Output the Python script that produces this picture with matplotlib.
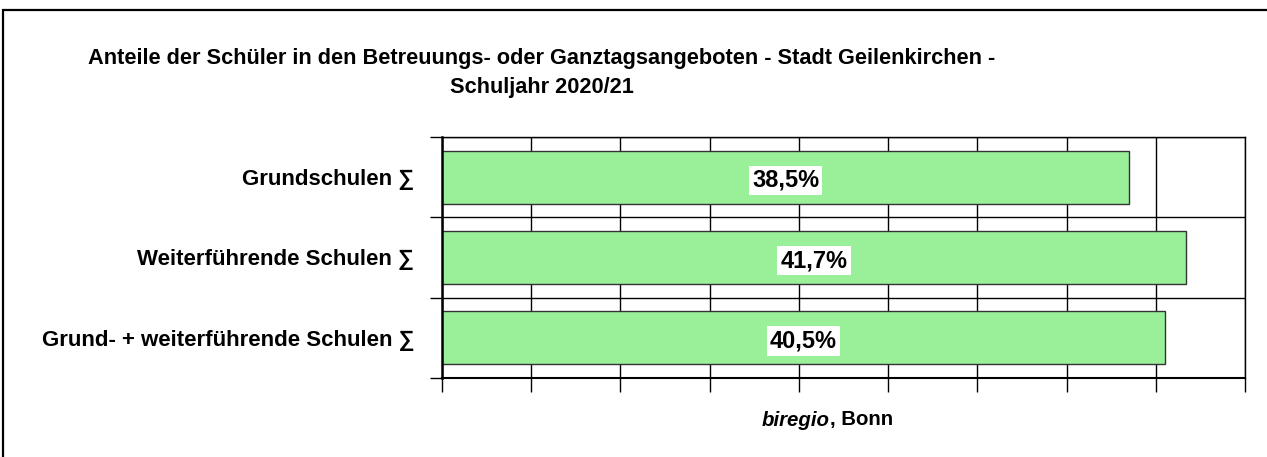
import matplotlib
matplotlib.use("Agg")
import matplotlib.pyplot as plt
from matplotlib.patches import Rectangle

plt.rcParams['font.family'] = ['Liberation Sans', 'DejaVu Sans']

categories = ["Grundschulen \u2211", "Weiterführende Schulen \u2211", "Grund- + weiterführende Schulen \u2211"]
values = [38.5, 41.7, 40.5]
value_labels = ["38,5%", "41,7%", "40,5%"]
title = "Anteile der Schüler in den Betreuungs- oder Ganztagsangeboten - Stadt Geilenkirchen -\nSchuljahr 2020/21"

W, H = 1267, 457
fig = plt.figure(figsize=(W/100, H/100), dpi=100)
fig.patch.set_facecolor('white')

# figure frame (cut off at right and bottom)
fig.patches.append(Rectangle((3/W, -0.1), 1.2, 1 - 10/H + 0.1, transform=fig.transFigure,
                             fill=False, edgecolor='black', linewidth=1.6, zorder=0))

ax = fig.add_axes([442/W, 1 - 378/H, (1245 - 442)/W, (378 - 137)/H])
y = list(range(len(categories)))
ax.barh(y, values, height=0.66, color='#99F099', edgecolor='#333333', linewidth=1.0, zorder=3)
ax.set_xlim(0, 45)
ax.set_ylim(len(categories) - 0.5, -0.5)

ax.set_xticks(range(0, 46, 5))
ax.set_xticklabels([])
ax.tick_params(axis='x', direction='out', length=10, width=1, color='black')
ax.set_yticks(y)
ax.set_yticklabels(categories, fontsize=16, fontweight='bold')
ax.tick_params(axis='y', length=0, pad=20)
ax.set_yticks([i - 0.5 for i in range(len(categories) + 1)], minor=True)
ax.tick_params(axis='y', which='minor', direction='out', length=9, width=1, color='black')

ax.grid(axis='x', which='major', color='black', linewidth=1, zorder=0)
ax.grid(axis='y', which='minor', color='black', linewidth=1, zorder=0)
ax.set_axisbelow(True)
for s in ['top', 'right']:
    ax.spines[s].set_linewidth(1)
ax.spines['left'].set_linewidth(1.8)
ax.spines['left'].set_zorder(5)
ax.spines['bottom'].set_linewidth(1.5)

for yi, v, lab in zip(y, values, value_labels):
    ax.text(v / 2, yi + 0.04, lab, ha='center', va='center', fontsize=17, fontweight='bold',
            bbox=dict(facecolor='white', edgecolor='none', pad=2.2), zorder=6)

fig.text(542/W, 1 - 73/H, title, ha='center', va='center', fontsize=15.7, fontweight='bold',
         linespacing=1.5)

fig.text(830/W, 1 - 420/H, "biregio", ha='right', va='center', fontsize=14.7,
         fontweight='bold', fontstyle='italic')
fig.text(830/W, 1 - 420/H, ", Bonn", ha='left', va='center', fontsize=14.7, fontweight='bold')

fig.savefig("out.png", dpi=100, facecolor='white')
